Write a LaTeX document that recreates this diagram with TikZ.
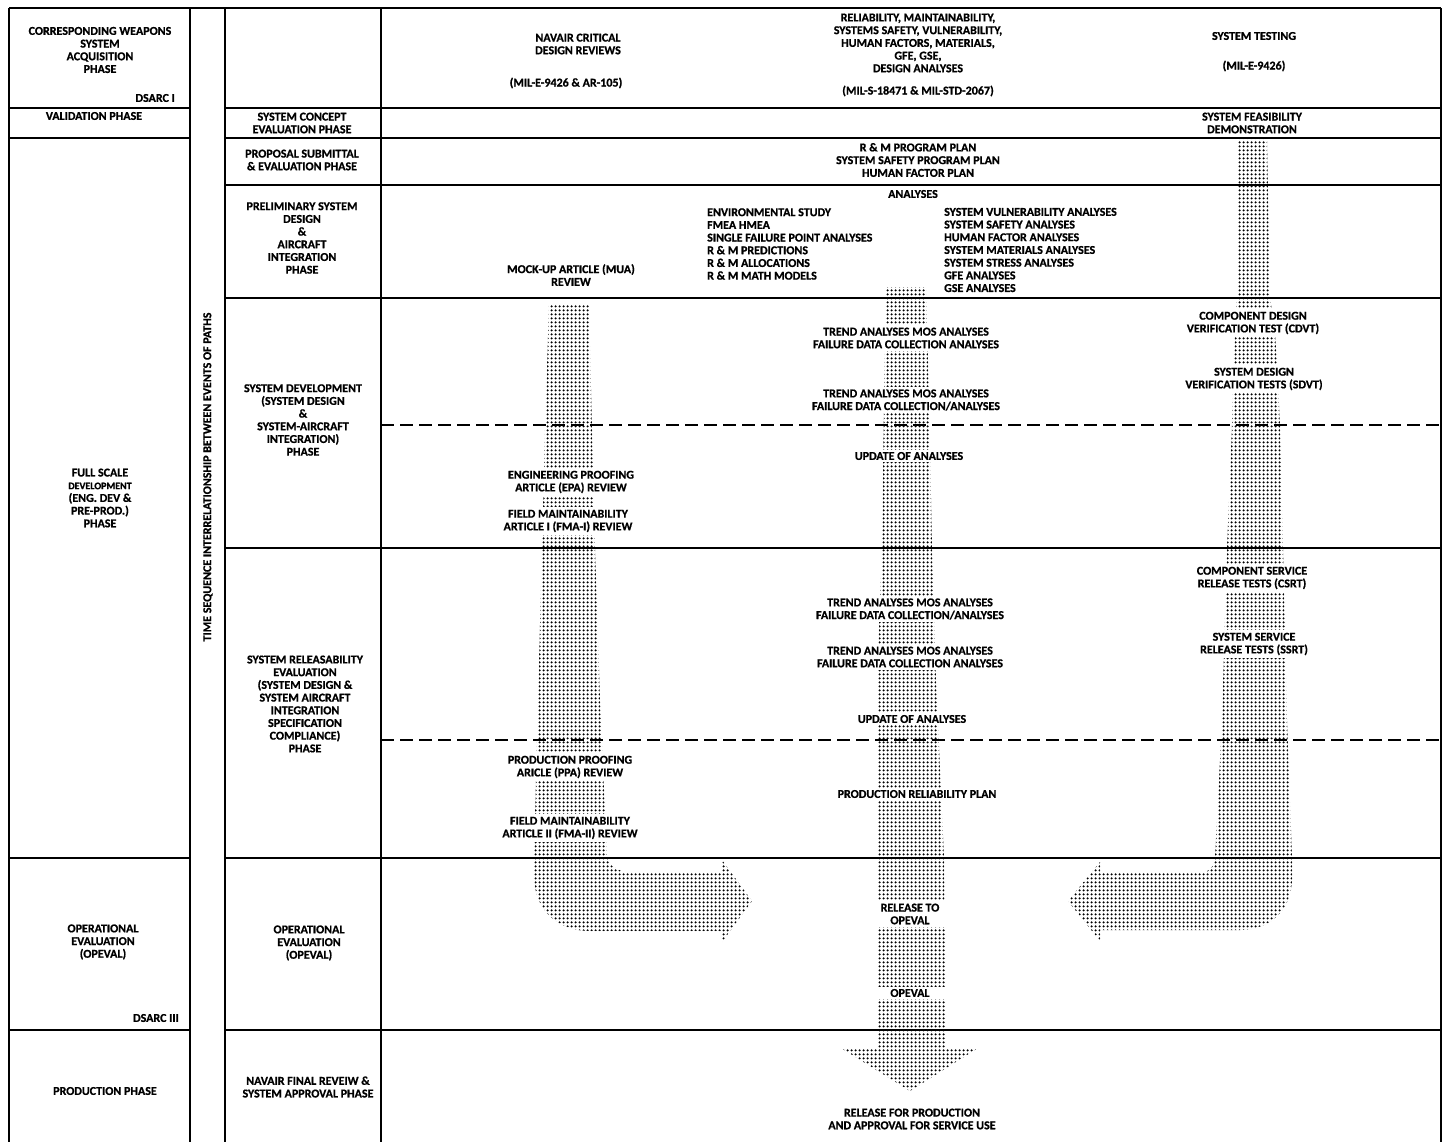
\documentclass[tikz,border=0pt]{standalone}
\usepackage{fontspec}
\setmainfont{Carlito}[BoldFeatures={FakeBold=0.8}]
\usetikzlibrary{patterns.meta}
\newcommand\cellfont{\fontsize{12}{12.7}\selectfont\bfseries}
\begin{document}
\begin{tikzpicture}[x=1pt,y=-1pt,
  cell/.style={font=\cellfont, align=center, inner sep=1pt},
  tag/.style={cell, fill=white, inner sep=2.5pt},
  rule/.style={line width=1.7pt},
  split/.style={line width=1.4pt, dash pattern=on 13pt off 6pt},
  halftone/.style={pattern={Dots[distance=4pt,radius=1.5pt]}, pattern color=black}]
\useasboundingbox (0,0) rectangle (1445,1142);
\fill[white] (0,0) rectangle (1445,1142);

% ---- halftone flow paths ----
% design review path (left), turning right into OPEVAL
\path[halftone] (549,305) -- (589,305) -- (592,430) -- (595,548) -- (600,700) -- (607,858)
  -- (612,866) -- (625,873) -- (722,873) -- (722,860) -- (752,901) -- (722,942) -- (722,931)
  -- (590,931) .. controls (556,931) and (534,908) .. (534,876) -- (534,858) -- (538,700)
  -- (542,548) -- (545,430) -- cycle;
% design analyses path (centre), down to production release
\path[halftone] (886,287) -- (926,287) -- (929,400) -- (932,548) -- (936,680) -- (944,858)
  -- (946,1048) -- (978,1048) -- (910,1091) -- (841,1048) -- (878,1048) -- (877,858)
  -- (877,680) -- (882,548) -- (884,400) -- cycle;
% system testing path (right), turning left into OPEVAL
\path[halftone] (1238,140) -- (1267,140) -- (1270,298) -- (1275,330) -- (1280,425) -- (1283,548)
  -- (1287,720) -- (1292,858) -- (1292,878) .. controls (1292,910) and (1270,930) .. (1240,930)
  -- (1100,930) -- (1100,941) -- (1068,901) -- (1100,862) -- (1100,873) -- (1200,873)
  .. controls (1208,873) and (1215,866) .. (1215,858) -- (1222,720) -- (1227,548) -- (1232,425)
  -- (1235,330) -- (1237,298) -- cycle;

% ---- table rules ----
\draw[rule] (9,8) -- (1441,8);
\foreach \x in {9,190,225,381,1441} \draw[rule] (\x,8) -- (\x,1142);
\foreach \y in {108,138,858,1030} \draw[rule] (9,\y) -- (190,\y);
\foreach \y in {108,138,185,298,548,858,1030} \draw[rule] (225,\y) -- (1441,\y);
\foreach \y in {425,740} \draw[split] (381,\y) -- (1441,\y);

% ---- weapons system acquisition phases ----
\node[cell] (acq) at (100,50) {CORRESPONDING WEAPONS\\SYSTEM\\ACQUISITION\\PHASE};
\node[cell, anchor=east] (dsarc1) at (176,98) {DSARC I};
\node[cell] (valid) at (94,116) {VALIDATION PHASE};
\node[cell] (fsd) at (100,498) {FULL SCALE\\{\fontsize{10}{12.7}\selectfont DEVELOPMENT}\\(ENG. DEV \&\\PRE-PROD.)\\PHASE};
\node[cell] (opevl) at (103,942) {OPERATIONAL\\EVALUATION\\(OPEVAL)};
\node[cell, anchor=east] (dsarc3) at (180,1018) {DSARC III};
\node[cell] (prodl) at (105,1091) {PRODUCTION PHASE};

% ---- time axis ----
\node[cell, rotate=90] (time) at (208,477) {TIME SEQUENCE INTERRELATIONSHIP BETWEEN EVENTS OF PATHS};

% ---- program phases ----
\node[cell] (concept) at (302,123) {SYSTEM CONCEPT\\EVALUATION PHASE};
\node[cell] (proposal) at (302,160) {PROPOSAL SUBMITTAL\\\& EVALUATION PHASE};
\node[cell] (prelim) at (302,238) {PRELIMINARY SYSTEM\\DESIGN\\\&\\AIRCRAFT\\INTEGRATION\\PHASE};
\node[cell] (sysdev) at (303,420) {SYSTEM DEVELOPMENT\\(SYSTEM DESIGN\\\&\\SYSTEM-AIRCRAFT\\INTEGRATION)\\PHASE};
\node[cell] (release) at (305,704) {SYSTEM RELEASABILITY\\EVALUATION\\(SYSTEM DESIGN \&\\SYSTEM AIRCRAFT\\INTEGRATION\\SPECIFICATION\\COMPLIANCE)\\PHASE};
\node[cell] (opevm) at (309,943) {OPERATIONAL\\EVALUATION\\(OPEVAL)};
\node[cell] (final) at (308,1087) {NAVAIR FINAL REVEIW \&\\SYSTEM APPROVAL PHASE};

% ---- column heads ----
\node[cell] (navair) at (578,44) {NAVAIR CRITICAL\\DESIGN REVIEWS};
\node[cell] (navspec) at (566,83) {(MIL-E-9426 \& AR-105)};
\node[cell] (rm) at (918,43) {RELIABILITY, MAINTAINABILITY,\\SYSTEMS SAFETY, VULNERABILITY,\\HUMAN FACTORS, MATERIALS,\\GFE, GSE,\\DESIGN ANALYSES};
\node[cell] (rmspec) at (918,91) {(MIL-S-18471 \& MIL-STD-2067)};
\node[cell] (test) at (1254,36) {SYSTEM TESTING};
\node[cell] (testspec) at (1254,66) {(MIL-E-9426)};

% ---- early events ----
\node[cell] (feas) at (1252,123) {SYSTEM FEASIBILITY\\DEMONSTRATION};
\node[cell] (plans) at (918,160) {R \& M PROGRAM PLAN\\SYSTEM SAFETY PROGRAM PLAN\\HUMAN FACTOR PLAN};
\node[cell] (analyses) at (913,194) {ANALYSES};
\node[cell, align=left, anchor=west] (listA) at (706,244) {ENVIRONMENTAL STUDY\\FMEA HMEA\\SINGLE FAILURE POINT ANALYSES\\R \& M PREDICTIONS\\R \& M ALLOCATIONS\\R \& M MATH MODELS};
\node[cell, align=left, anchor=west] (listB) at (943,250) {SYSTEM VULNERABILITY ANALYSES\\SYSTEM SAFETY ANALYSES\\HUMAN FACTOR ANALYSES\\SYSTEM MATERIALS ANALYSES\\SYSTEM STRESS ANALYSES\\GFE ANALYSES\\GSE ANALYSES};
\node[cell] (mua) at (571,275) {MOCK-UP ARTICLE (MUA)\\REVIEW};

% ---- review path events ----
\node[tag] (epa) at (571,482) {ENGINEERING PROOFING\\ARTICLE (EPA) REVIEW};
\node[tag] (fma1) at (568,521) {FIELD MAINTAINABILITY\\ARTICLE I (FMA-I) REVIEW};
\node[tag] (ppa) at (570,767) {PRODUCTION PROOFING\\ARICLE (PPA) REVIEW};
\node[tag] (fma2) at (570,828) {FIELD MAINTAINABILITY\\ARTICLE II (FMA-II) REVIEW};

% ---- analyses path events ----
\node[tag] (trend1) at (906,338) {TREND ANALYSES MOS ANALYSES\\FAILURE DATA COLLECTION ANALYSES};
\node[tag] (trend2) at (906,400) {TREND ANALYSES MOS ANALYSES\\FAILURE DATA COLLECTION/ANALYSES};
\node[tag] (upd1) at (909,456) {UPDATE OF ANALYSES};
\node[tag] (trend3) at (910,609) {TREND ANALYSES MOS ANALYSES\\FAILURE DATA COLLECTION/ANALYSES};
\node[tag] (trend4) at (910,657) {TREND ANALYSES MOS ANALYSES\\FAILURE DATA COLLECTION ANALYSES};
\node[tag] (upd2) at (912,719) {UPDATE OF ANALYSES};
\node[tag] (prp) at (917,794) {PRODUCTION RELIABILITY PLAN};
\node[tag, minimum width=76pt] (rel) at (910,914) {RELEASE TO\\OPEVAL};
\node[tag, minimum width=76pt] (opev) at (910,993) {OPEVAL};
\node[cell] (final2) at (912,1119) {RELEASE FOR PRODUCTION\\AND APPROVAL FOR SERVICE USE};

% ---- testing path events ----
\node[tag] (cdvt) at (1253,323) {COMPONENT DESIGN\\VERIFICATION TEST (CDVT)};
\node[tag] (sdvt) at (1254,379) {SYSTEM DESIGN\\VERIFICATION TESTS (SDVT)};
\node[tag] (csrt) at (1252,578) {COMPONENT SERVICE\\RELEASE TESTS (CSRT)};
\node[tag] (ssrt) at (1254,644) {SYSTEM SERVICE\\RELEASE TESTS (SSRT)};
\end{tikzpicture}
\end{document}
